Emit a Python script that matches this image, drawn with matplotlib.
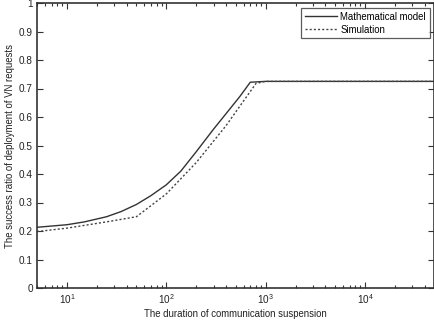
import matplotlib
matplotlib.use("Agg")
import matplotlib.pyplot as plt
from matplotlib.ticker import LogLocator

plt.rcParams['font.family'] = ['Liberation Sans', 'DejaVu Sans']
plt.rcParams['mathtext.fontset'] = 'custom'
plt.rcParams['mathtext.rm'] = 'Liberation Sans'
plt.rcParams['mathtext.it'] = 'Liberation Sans'

duration = [5, 10, 15, 25, 35, 50, 70, 100, 140, 200, 300, 400, 550, 700, 1000, 2000, 5000, 10000, 20000, 50000]
model = [0.213, 0.222, 0.232, 0.25, 0.268, 0.293, 0.324, 0.362, 0.41, 0.478, 0.558, 0.612, 0.672, 0.722,
         0.725, 0.725, 0.725, 0.725, 0.725, 0.725]
sim_duration = [5, 10, 25, 50, 100, 200, 400, 800, 1000, 2000, 5000, 10000, 20000, 50000]
simulation = [0.198, 0.21, 0.232, 0.25, 0.33, 0.44, 0.57, 0.718, 0.725, 0.725, 0.725, 0.725, 0.725, 0.725]
yticks = [0, 0.1, 0.2, 0.3, 0.4, 0.5, 0.6, 0.7, 0.8, 0.9, 1]
ytick_labels = ['0', '0.1', '0.2', '0.3', '0.4', '0.5', '0.6', '0.7', '0.8', '0.9', '1']

fig = plt.figure(figsize=(4.35, 3.24), dpi=100)
ax = fig.add_axes([37/435, 1 - 288/324, (434.5 - 37)/435, (288 - 3)/324])

ax.plot(duration, model, '-', color='#333333', lw=1.0, label='Mathematical model')
ax.plot(sim_duration, simulation, linestyle=(0, (1.5, 1.5)), color='#444444', lw=1.0, label='Simulation')

ax.set_xscale('log')
ax.set_xlim(5, 50000)
ax.set_ylim(0, 1)
ax.set_yticks(yticks)
ax.set_yticklabels(ytick_labels)
ax.xaxis.set_major_locator(LogLocator(base=10, numticks=10))
ax.xaxis.set_minor_locator(LogLocator(base=10, subs=range(2, 10), numticks=20))

ax.tick_params(which='both', direction='in', top=True, right=True, labelsize=7.2, color='#333333',
               labelcolor='#222222', pad=3)
ax.tick_params(which='major', length=4, width=0.8)
ax.tick_params(which='minor', length=2.5, width=0.8)
for s in ax.spines.values():
    s.set_linewidth(1.2)
    s.set_color('#333333')

ax.set_xlabel('The duration of communication suspension', fontsize=6.9, labelpad=2, color='#222222')
ax.set_ylabel('The success ratio of deployment of VN requests', fontsize=6.9, labelpad=3, color='#222222')

leg = ax.legend(loc='upper right', fontsize=6.9, frameon=True, fancybox=False,
                edgecolor='#333333', handlelength=3.4, borderpad=0.4, labelspacing=0.3,
                handletextpad=0.3, borderaxespad=0.5)
leg.get_frame().set_linewidth(0.9)

fig.savefig('out.png', dpi=100)
